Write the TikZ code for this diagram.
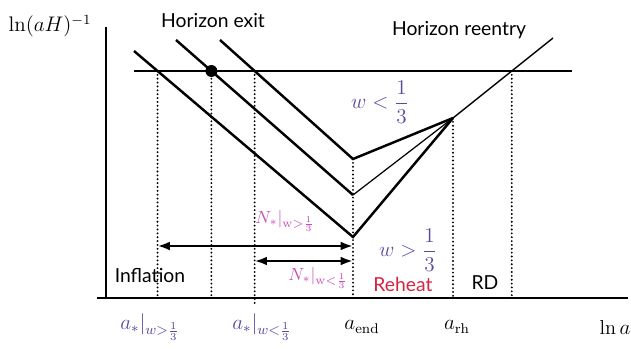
\documentclass[tikz,border=0pt]{standalone}
\usepackage{amsmath,amssymb}
\usepackage{fontspec}
\newfontfamily\gillish{Lato}
\usepackage{tikz}
\usetikzlibrary{arrows.meta,calc}
\definecolor{wpurple}{RGB}{85,75,160}
\definecolor{npink}{RGB}{200,80,180}
\definecolor{rhred}{RGB}{215,35,65}

\begin{document}
\begin{tikzpicture}[x=0.02cm,y=-0.02cm,inner sep=1pt,
  thk/.style={line width=1.4pt},
  thn/.style={line width=0.7pt},
  dots/.style={line width=1.2pt,line cap=round,dash pattern=on 0pt off 2.2pt},
  lbl/.style={font=\gillish\fontsize{11}{13}\selectfont},
  mlbl/.style={font=\fontsize{11.5}{13}\selectfont}]
\useasboundingbox (0,0) rectangle (631,348);
% axes
\coordinate (O) at (106,298);
\coordinate (Ytop) at (106,27);
\coordinate (Xl) at (97,298);
\coordinate (Xr) at (628,298);
\draw[line width=1.5pt] (Ytop) -- (O);
\draw[line width=1.2pt] (Xl) -- (Xr);
% horizon
\coordinate (H1) at (134,71);
\coordinate (H2) at (572,71);
\draw[thn] (H1) -- (H2);
% modes
\coordinate (L1) at (134,51);
\coordinate (L2) at (176,40);
\coordinate (L3) at (220,40);
\coordinate (Vlo) at (353,237);
\coordinate (Vmid) at (353,195);
\coordinate (Vup) at (353,159);
\coordinate (R) at (453,118);
\coordinate (E) at (553,38);
\draw[thk] (L1) -- (Vlo) -- (R);
\draw[thk] (L2) -- (Vmid);
\draw[thn] (Vmid) -- (R);
\draw[thk] (L3) -- (Vup) -- (R);
\draw[line width=0.8pt] (R) -- (E);
% crossings with the horizon
\coordinate (X1) at (intersection of L1--Vlo and H1--H2);
\coordinate (X2) at (intersection of L2--Vmid and H1--H2);
\coordinate (X3) at (intersection of L3--Vup and H1--H2);
\coordinate (X4) at (intersection of R--E and H1--H2);
\fill (X2) circle (3.4pt);
\foreach \p in {X1,X2,X4,Vup,R}
  \draw[dots] (\p) -- (\p |- O);
\draw[dots] (X3) -- ($(X3 |- O)+(0,7)$);
% e-folds
\coordinate (Ay1) at (0,246);
\coordinate (Ay2) at (0,261);
\draw[line width=1.3pt,{Latex[length=7pt,width=5pt]}-{Latex[length=7pt,width=5pt]}] (X1 |- Ay1) -- (Vlo |- Ay1);
\draw[line width=1.3pt,{Latex[length=7pt,width=5pt]}-{Latex[length=7pt,width=5pt]}] (X3 |- Ay2) -- (Vlo |- Ay2);
% labels
\node (ylab) at (50,26) [font=\fontsize{12}{14}\selectfont] {$\ln(aH)^{-1}$};
\node (exit) at (213,21) [lbl] {Horizon exit};
\node (reentry) at (459,30) [lbl] {Horizon reentry};
\node (wlt) at (380,102) [mlbl,text=wpurple] {$w<\dfrac{1}{3}$};
\node (wgt) at (408,250) [mlbl,text=wpurple] {$w>\dfrac{1}{3}$};
\node (reheat) at (403,284) [lbl,text=rhred] {Reheat};
\node (rd) at (485,283) [lbl] {RD};
\node (infl) at (150,275) [lbl] {Inflation};
\node (Nlong) at (285,221) [text=npink] {$N_*|_{\mathrm{w}>\frac{1}{3}}$};
\node (Nshort) at (318,278) [text=npink] {$N_*|_{\mathrm{w}<\frac{1}{3}}$};
\foreach \x/\t/\c [count=\i] in {150/{a_*|_{w>\frac{1}{3}}}/wpurple,262/{a_*|_{w<\frac{1}{3}}}/wpurple,362/{a_{\mathrm{end}}}/black,457/{a_{\mathrm{rh}}}/black,615/{\ln a}/black}
  \node (bot\i) at (\x,327) [mlbl,text=\c] {$\t$};
\end{tikzpicture}
\end{document}
